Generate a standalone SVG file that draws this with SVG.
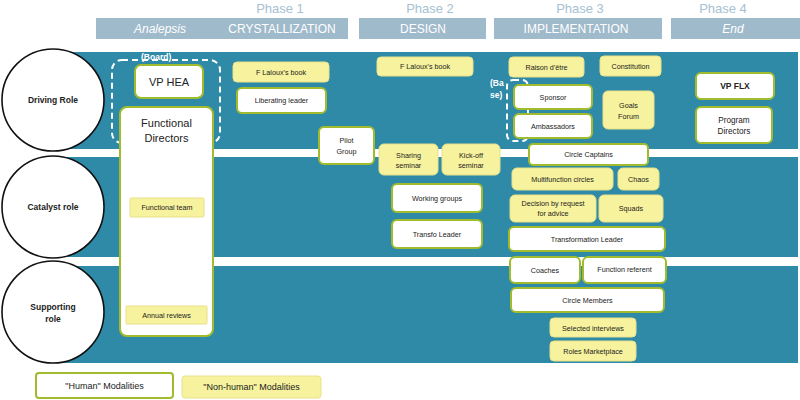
<svg xmlns="http://www.w3.org/2000/svg" width="800" height="400" viewBox="0 0 800 400">
<defs>
<style>
text{font-family:"Liberation Sans",Arial,sans-serif;fill:#222;text-anchor:middle}
.h{fill:#fff;stroke:#a0bc2e;stroke-width:2}
.y{fill:#f7f29d;stroke:#e8e18a;stroke-width:1}
.t{font-size:7.2px}
.hd{font-size:12px;fill:#fff}
.ph{font-size:13px;fill:#a6c1d2}
.bar{fill:#9fbacb}
.dash{fill:none;stroke:#fff;stroke-width:2;stroke-dasharray:6 4}
.role{fill:#fff;stroke:#111;stroke-width:1.6}
.rl{font-size:8.5px;font-weight:bold}
.wl{font-size:8.5px;font-weight:bold;fill:#fff;text-anchor:start}
</style>
</defs>
<rect width="800" height="400" fill="#fff"/>
<!-- background band -->
<rect x="60" y="52" width="738" height="311" fill="#2f8aa8"/>
<rect x="60" y="149" width="740" height="8" fill="#fff"/>
<rect x="60" y="257" width="740" height="9" fill="#fff"/>
<!-- header -->
<g id="header">
<text class="ph" x="280" y="13">Phase 1</text>
<text class="ph" x="430" y="13">Phase 2</text>
<text class="ph" x="580" y="13">Phase 3</text>
<text class="ph" x="723" y="13">Phase 4</text>
<rect class="bar" x="96" y="18" width="252" height="21"/>
<rect class="bar" x="359" y="18" width="127" height="21"/>
<rect class="bar" x="494" y="18" width="168" height="21"/>
<rect class="bar" x="671" y="18" width="129" height="21"/>
<text class="hd" x="160" y="33" font-style="italic" font-size="12.5">Analepsis</text>
<text class="hd" x="282" y="33">CRYSTALLIZATION</text>
<text class="hd" x="423" y="33">DESIGN</text>
<text class="hd" x="576" y="33">IMPLEMENTATION</text>
<text class="hd" x="733" y="33" font-style="italic" font-size="12.5">End</text>
</g>
<!-- roles -->
<g id="driving-role"><circle class="role" cx="53" cy="100" r="51"/><text class="rl" x="53" y="103">Driving Role</text></g>
<g id="catalyst-role"><circle class="role" cx="53" cy="207" r="51"/><text class="rl" x="53" y="210">Catalyst role</text></g>
<g id="supporting-role"><circle class="role" cx="53" cy="312" r="51"/><text class="rl" x="53" y="310">Supporting</text><text class="rl" x="53" y="322">role</text></g>
<g id="connectors"></g>
<!-- board -->
<g id="board"><rect class="dash" x="112" y="60" width="108" height="83" rx="10"/><text class="wl" x="141" y="60">(Board)</text></g>
<g id="functional-directors"><rect class="h" x="120" y="107" width="93" height="229" rx="7"/><text x="166.5" y="127" font-size="11">Functional</text><text x="166.5" y="142" font-size="11">Directors</text></g>
<g id="vp-hea"><rect class="h" x="135" y="65" width="68" height="33" rx="6"/><text x="169" y="86" font-size="11">VP HEA</text></g>
<g id="functional-team"><rect class="y" x="130" y="198" width="74" height="19" rx="1"/><text class="t" x="167" y="210">Functional team</text></g>
<g id="annual-reviews"><rect class="y" x="126" y="306" width="81" height="18" rx="1"/><text class="t" x="166.5" y="318">Annual reviews</text></g>
<!-- phase 1 -->
<g id="f-laloux-book-1"><rect class="y" x="233" y="62" width="96" height="20" rx="4"/><text class="t" x="281" y="74.5">F Laloux's book</text></g>
<g id="liberating-leader"><rect class="h" x="237" y="88" width="89" height="25" rx="5"/><text class="t" x="281.5" y="103">Liberating leader</text></g>
<g id="pilot-group"><rect class="h" x="319" y="127" width="55" height="37" rx="5"/><text class="t" x="346.5" y="143">Pilot</text><text class="t" x="346.5" y="154">Group</text></g>
<!-- phase 2 -->
<g id="f-laloux-book-2"><rect class="y" x="377" y="57" width="96" height="19" rx="4"/><text class="t" x="425" y="69">F Laloux's book</text></g>
<g id="sharing-seminar"><rect class="y" x="379" y="144" width="59" height="31" rx="5"/><text class="t" x="408.5" y="158">Sharing</text><text class="t" x="408.5" y="168">seminar</text></g>
<g id="kickoff-seminar"><rect class="y" x="442" y="144" width="58" height="31" rx="5"/><text class="t" x="471" y="158">Kick-off</text><text class="t" x="471" y="168">seminar</text></g>
<g id="working-groups"><rect class="h" x="392" y="184" width="90" height="28" rx="5"/><text class="t" x="437" y="200.5">Working groups</text></g>
<g id="transfo-leader"><rect class="h" x="392" y="220" width="90" height="28" rx="5"/><text class="t" x="437" y="236.5">Transfo Leader</text></g>
<!-- phase 3 -->
<g id="raison-detre"><rect class="y" x="509" y="57" width="75" height="20" rx="4"/><text class="t" x="546.5" y="70">Raison d'être</text></g>
<g id="constitution"><rect class="y" x="600" y="56" width="61" height="20" rx="4"/><text class="t" x="630.5" y="69">Constitution</text></g>
<g id="base"><rect class="dash" x="507" y="80" width="21" height="61" rx="6"/><text class="wl" x="490" y="86">(Ba</text><text class="wl" x="490" y="98">se)</text></g>
<g id="sponsor"><rect class="h" x="514" y="85" width="78" height="24" rx="5"/><text class="t" x="553" y="99.5">Sponsor</text></g>
<g id="ambassadors"><rect class="h" x="514" y="114" width="78" height="24" rx="5"/><text class="t" x="553" y="128.5">Ambassadors</text></g>
<g id="goals-forum"><rect class="y" x="603" y="91" width="51" height="38" rx="5"/><text class="t" x="628.5" y="107.5">Goals</text><text class="t" x="628.5" y="118.5">Forum</text></g>
<g id="circle-captains"><rect class="h" x="529" y="144" width="119" height="21" rx="4"/><text class="t" x="588.5" y="157">Circle Captains</text></g>
<g id="multifunction-circles"><rect class="y" x="512" y="168" width="101" height="22" rx="5"/><text class="t" x="562.5" y="181.5">Multifunction circles</text></g>
<g id="chaos"><rect class="y" x="618" y="168" width="41" height="22" rx="5"/><text class="t" x="638.5" y="181.5">Chaos</text></g>
<g id="decision-by-request"><rect class="y" x="510" y="195" width="86" height="27" rx="5"/><text class="t" x="553" y="206">Decision by request</text><text class="t" x="553" y="216">for advice</text></g>
<g id="squads"><rect class="y" x="599" y="195" width="64" height="27" rx="5"/><text class="t" x="631" y="211">Squads</text></g>
<g id="transformation-leader"><rect class="h" x="509" y="227" width="156" height="24" rx="5"/><text class="t" x="587" y="241.5">Transformation Leader</text></g>
<g id="coaches"><rect class="h" x="510" y="257" width="70" height="26" rx="5"/><text class="t" x="545" y="272.5">Coaches</text></g>
<g id="function-referent"><rect class="h" x="583" y="257" width="83" height="26" rx="5"/><text class="t" x="624.5" y="272">Function referent</text></g>
<g id="circle-members"><rect class="h" x="511" y="288" width="153" height="24" rx="5"/><text class="t" x="587.5" y="302.5">Circle Members</text></g>
<g id="selected-interviews"><rect class="y" x="550" y="318" width="86" height="19" rx="4"/><text class="t" x="593" y="330.5">Selected interviews</text></g>
<g id="roles-marketplace"><rect class="y" x="550" y="341" width="86" height="20" rx="4"/><text class="t" x="593" y="354">Roles Marketplace</text></g>
<!-- phase 4 -->
<g id="vp-flx"><rect class="h" x="696" y="73" width="78" height="26" rx="5"/><text x="735" y="89" font-size="8.5" font-weight="bold">VP FLX</text></g>
<g id="program-directors"><rect class="h" x="696" y="107" width="76" height="36" rx="5"/><text x="734" y="123" font-size="8.2">Program</text><text x="734" y="134" font-size="8.2">Directors</text></g>
<!-- legend -->
<g id="legend-human"><rect class="h" x="36" y="373" width="137" height="25" rx="3"/><text x="104.5" y="389" font-size="9">"Human" Modalities</text></g>
<g id="legend-nonhuman"><rect class="y" x="182" y="376" width="139" height="22" rx="3"/><text x="251.5" y="390" font-size="9">"Non-human" Modalities</text></g>
</svg>
